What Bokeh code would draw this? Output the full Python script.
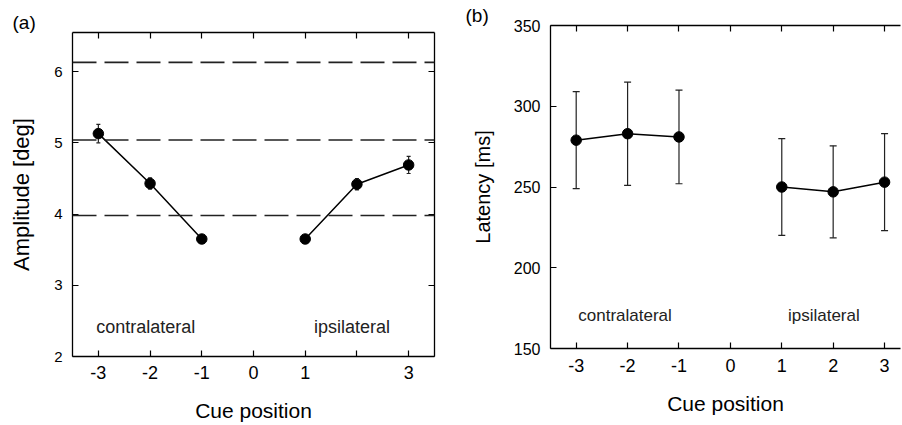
from bokeh.plotting import figure
from bokeh.models import (Range1d, LinearAxis, FixedTicker, Span, Whisker,
                          ColumnDataSource, Label, TeeHead)
from bokeh.layouts import row, column
from bokeh.embed import file_html
from bokeh.resources import INLINE

# ---------------- data ----------------
cue_pos = [-3, -2, -1, 1, 2, 3]
amp_mean = [5.13, 4.43, 3.65, 3.65, 4.42, 4.69]
amp_err = [0.13, 0.08, 0.05, 0.05, 0.08, 0.12]
lat_mean = [279, 283, 281, 250, 247, 253]
lat_err = [30, 32, 29, 30, 28.5, 30]
ref_levels = [6.13, 5.04, 3.98]
x_ticks = [-3, -2, -1, 0, 1, 2, 3]
x_tick_labels_a = ["-3", "-2", "-1", "0", "1", "", "3"]
x_tick_labels_b = ["-3", "-2", "-1", "0", "1", "2", "3"]
amp_ticks = [2, 3, 4, 5, 6]
lat_ticks = [150, 200, 250, 300, 350]

FONT = "Liberation Sans"
H = 424


def style_axis(ax, ticks, labels=True, lab_size="15px"):
    ax.ticker = FixedTicker(ticks=ticks)
    ax.major_tick_in = 6
    ax.major_tick_out = 0
    ax.minor_tick_line_color = None
    ax.axis_line_color = "black"
    ax.axis_line_width = 1.3
    ax.major_tick_line_color = "black"
    ax.major_tick_line_width = 1.2
    ax.major_label_text_font = FONT
    ax.major_label_text_color = "black"
    ax.major_label_text_font_size = lab_size
    if not labels:
        ax.major_label_overrides = {t: "" for t in ticks}
        ax.major_label_standoff = 0
    ax.axis_label_text_font = FONT
    ax.axis_label_text_font_style = "normal"
    ax.axis_label_text_color = "black"


def make_panel(width, borders, xr, yr, yticks, ylab_size, mean, err, ytitle,
               ytitle_size, tick_labels, x_std, label_text, label_off,
               text_pos, text_size, right_axis, head):
    left, right, top, bottom = borders
    p = figure(width=width, height=H, x_range=Range1d(*xr), y_range=Range1d(*yr),
               output_backend="svg", toolbar_location=None, title=label_text,
               min_border_left=left, min_border_right=right,
               min_border_top=top, min_border_bottom=bottom)
    p.outline_line_color = None
    p.xgrid.visible = False
    p.ygrid.visible = False
    p.background_fill_color = "white"

    p.title.align = "left"
    p.title.offset = label_off
    p.title.standoff = 0
    p.title.text_font = FONT
    p.title.text_font_size = "19px"
    p.title.text_font_style = "normal"
    p.title.text_color = "black"

    xa = p.xaxis[0]
    style_axis(xa, x_ticks, True, "18px")
    xa.major_label_overrides = {t: s for t, s in zip(x_ticks, tick_labels)}
    xa.major_label_standoff = x_std[0]
    xa.axis_label = "Cue position"
    xa.axis_label_text_font_size = "21px"
    xa.axis_label_standoff = x_std[1]

    ya = p.yaxis[0]
    style_axis(ya, yticks, True, ylab_size)
    ya.major_label_standoff = 10
    ya.axis_label = ytitle
    ya.axis_label_text_font_size = ytitle_size
    ya.axis_label_standoff = 17

    top_ax = LinearAxis()
    style_axis(top_ax, x_ticks, False)
    p.add_layout(top_ax, "above")
    if right_axis:
        r_ax = LinearAxis()
        style_axis(r_ax, yticks, False)
        p.add_layout(r_ax, "right")

    src = ColumnDataSource(dict(x=cue_pos, y=mean,
                                lo=[m - e for m, e in zip(mean, err)],
                                hi=[m + e for m, e in zip(mean, err)]))
    p.add_layout(Whisker(source=src, base="x", upper="hi", lower="lo",
                         line_color="#222", line_width=1.2,
                         upper_head=TeeHead(size=head, line_color="#222", line_width=1.2),
                         lower_head=TeeHead(size=head, line_color="#222", line_width=1.2)))
    p.line(cue_pos[:3], mean[:3], line_color="black", line_width=1.5)
    p.line(cue_pos[3:], mean[3:], line_color="black", line_width=1.5)
    p.scatter("x", "y", source=src, size=10.5, marker="circle",
              fill_color="black", line_color="black")

    p.add_layout(Label(x=text_pos[0], y=text_pos[2], text="contralateral",
                       text_font=FONT, text_font_size=text_size, text_baseline="middle",
                       text_color="#222"))
    p.add_layout(Label(x=text_pos[1], y=text_pos[2], text="ipsilateral",
                       text_font=FONT, text_font_size=text_size, text_baseline="middle",
                       text_color="#222"))
    return p


pa = make_panel(452, (72, 18, 32, H - 357), (-3.5, 3.5), (2, 6.55), amp_ticks, "15px",
                amp_mean, amp_err, "Amplitude [deg]", "22px", x_tick_labels_a, (9, 17),
                "(a)", -60, (-3.04, 1.17, 2.41), "18px", True, 4)
for lv in ref_levels:
    pa.add_layout(Span(location=lv, dimension="width", line_color="#222",
                       line_width=1.6, line_dash="24 8"))

pb = make_panel(449, (98, 1, 25, H - 348), (-3.5, 3.31), (150, 350), lat_ticks, "16px",
                lat_mean, lat_err, "Latency [ms]", "20px", x_tick_labels_b, (10, 17),
                "(b)", -85, (-2.96, 1.12, 170.4), "17px", False, 7)

layout = row(column(pa), column(pb))
open("out.html", "w").write(file_html(layout, INLINE))
